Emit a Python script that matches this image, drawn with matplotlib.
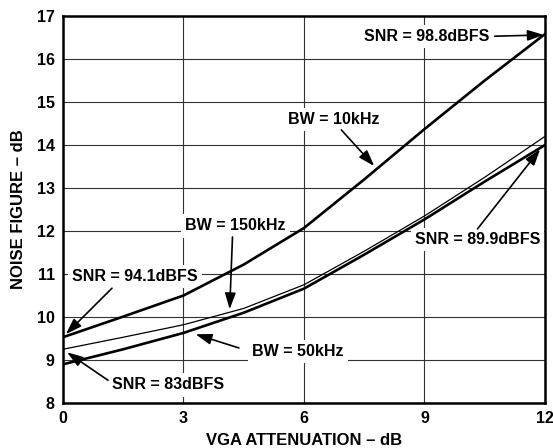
import matplotlib.pyplot as plt

plt.rcParams['font.family'] = ['Liberation Sans', 'DejaVu Sans']
plt.rcParams['font.weight'] = 'bold'

# data
atten = [0, 1.5, 3, 4.5, 6, 7.5, 9, 10.5, 12]
nf_10k = [9.53, 10.01, 10.5, 11.22, 12.07, 13.2, 14.37, 15.5, 16.58]
nf_150k = [9.25, 9.53, 9.82, 10.2, 10.75, 11.53, 12.35, 13.25, 14.2]
nf_50k = [8.9, 9.25, 9.63, 10.1, 10.66, 11.45, 12.27, 13.15, 14.0]

x_ticks = [0, 3, 6, 9, 12]
y_ticks = [8, 9, 10, 11, 12, 13, 14, 15, 16, 17]

# label text, text position, arrow tail, arrow tip
notes = [
    ('SNR = 98.8dBFS', (9.05, 16.52), (10.75, 16.53), (11.97, 16.56)),
    ('BW = 10kHz', (6.75, 14.6), (6.93, 14.35), (7.75, 13.51)),
    ('BW = 150kHz', (4.3, 12.12), (4.22, 11.86), (4.15, 10.18)),
    ('SNR = 94.1dBFS', (1.8, 10.95), (1.22, 10.67), (0.07, 9.6)),
    ('BW = 50kHz', (5.85, 9.19), (4.38, 9.28), (3.3, 9.6)),
    ('SNR = 83dBFS', (2.62, 8.42), (1.12, 8.53), (0.1, 9.18)),
    ('SNR = 89.9dBFS', (10.32, 11.81), (10.32, 12.05), (11.88, 13.9)),
]

fig = plt.figure(figsize=(5.53, 4.48), dpi=100)
ax = fig.add_axes([0.1139, 0.1004, 0.8716, 0.8639])

ax.plot(atten, nf_10k, color='black', lw=1.9, zorder=3)
ax.plot(atten, nf_150k, color='black', lw=0.9, zorder=3)
ax.plot(atten, nf_50k, color='black', lw=1.9, zorder=3)

ax.set_xlim(0, 12)
ax.set_ylim(8, 17)
ax.set_xticks(x_ticks)
ax.set_yticks(y_ticks)
ax.tick_params(length=0, labelsize=11.5, pad=6)
for lab in ax.get_xticklabels() + ax.get_yticklabels():
    lab.set_fontweight('bold')
ax.grid(True, color='#333333', lw=0.8)
ax.set_axisbelow(True)
for s in ax.spines.values():
    s.set_linewidth(1.8)

ax.set_xlabel('VGA ATTENUATION – dB', fontsize=12, fontweight='bold', labelpad=5)
ax.set_ylabel('NOISE FIGURE – dB', fontsize=12, fontweight='bold', labelpad=8)

for txt, pos, tail, tip in notes:
    ax.text(pos[0], pos[1], txt, ha='center', va='center', fontsize=11.5,
            fontweight='bold', zorder=2.5,
            bbox=dict(facecolor='white', edgecolor='none', pad=3))
    ax.annotate('', xy=tip, xytext=tail, zorder=4,
                arrowprops=dict(arrowstyle='-|>,head_length=0.75,head_width=0.25',
                                color='black', lw=1.2,
                                mutation_scale=13, shrinkA=0, shrinkB=0))

fig.savefig('out.png', dpi=100)
